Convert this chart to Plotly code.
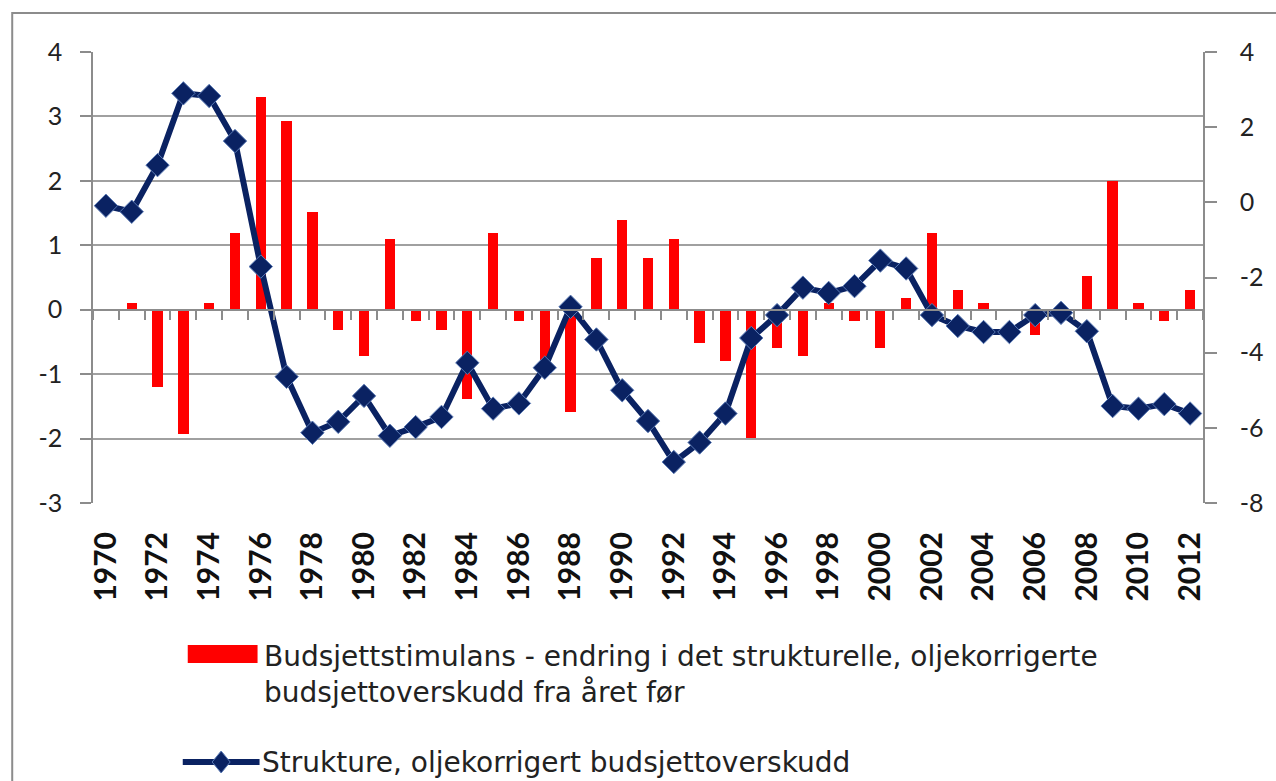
import plotly.graph_objects as go

years = list(range(1970, 2013))
stimulus = [0, 0.1, -1.2, -1.93, 0.1, 1.19, 3.3, 2.93, 1.52, -0.31,
            -0.72, 1.1, -0.18, -0.31, -1.39, 1.19, -0.18, -0.78, -1.59, 0.81,
            1.39, 0.81, 1.1, -0.52, -0.8, -1.99, -0.59, -0.72, 0.1, -0.18,
            -0.59, 0.18, 1.19, 0.3, 0.1, 0, -0.39, 0, 0.52, 2.0,
            0.1, -0.18, 0.3]
structural = [-0.09, -0.25, 0.99, 2.9, 2.83, 1.63, -1.71, -4.64, -6.13, -5.84,
              -5.15, -6.21, -5.98, -5.71, -4.27, -5.49, -5.35, -4.40, -2.78, -3.65,
              -5.0, -5.82, -6.91, -6.39, -5.62, -3.61, -3.0, -2.27, -2.41, -2.23,
              -1.55, -1.76, -3.0, -3.29, -3.45, -3.45, -3.0, -2.94, -3.43, -5.42,
              -5.49, -5.37, -5.62]
label_years = [y for y in years if y % 2 == 0]
label_text = [str(y) for y in label_years]
left_ticks = [-3, -2, -1, 0, 1, 2, 3, 4]
left_text = ["-3", "-2", "-1", "0", "1", "2", "3", "4"]
right_ticks = [-8, -6, -4, -2, 0, 2, 4]
right_text = ["-8", "-6", "-4", "-2", "0", "2", "4"]

name_bar = "Budsjettstimulans - endring i det strukturelle, oljekorrigerte<br>budsjettoverskudd fra året før"
name_line = "Strukture, oljekorrigert budsjettoverskudd"

W, H = 1276, 781
L, R, T, B = 93, 1206, 52, 503
pw, ph = R - L, B - T

def px(x):
    return (x - L) / pw

def py(y):
    return (B - y) / ph

GRID = "#a0a0a0"
AX = "#8c8c8c"
RED = "#ff0000"
NAVY = "#0a2262"
FONT = "Lato"
LFONT = "DejaVu Sans"

fig = go.Figure()
fig.add_trace(go.Bar(x=years, y=stimulus, width=0.4, marker=dict(color=RED, line=dict(width=0)),
                     xaxis="x", yaxis="y", name=name_bar, showlegend=False))
fig.add_trace(go.Scatter(x=years, y=structural, mode="lines+markers", xaxis="x2", yaxis="y2",
                         line=dict(color=NAVY, width=6),
                         marker=dict(symbol="diamond", size=18, color=NAVY,
                                     line=dict(color="#5a7ab5", width=1)),
                         name=name_line, showlegend=False))

lmin, lmax = -3, 4
rmin, rmax = -8, 4
xr = [years[0] - 0.5, years[-1] + 0.5]
boundaries = [years[0] - 0.5 + i for i in range(len(years) + 1)]

fig.update_layout(
    width=W, height=H,
    margin=dict(l=L, r=W - R, t=T, b=H - B, pad=0),
    paper_bgcolor="white", plot_bgcolor="white",
    font=dict(family=FONT, color="#222222"),
    bargap=0,
    xaxis=dict(range=xr, anchor="free", position=(0 - lmin) / (lmax - lmin),
               showgrid=False, zeroline=False, showline=True, linecolor=AX, linewidth=1.5,
               ticks="outside", ticklen=10, tickwidth=1.5, tickcolor=AX,
               tickvals=boundaries, showticklabels=False),
    xaxis2=dict(range=xr, overlaying="x", anchor="y", side="bottom",
                showgrid=False, zeroline=False, showline=False, ticks="",
                tickvals=label_years, ticktext=label_text, tickangle=-90,
                ticklabelstandoff=22,
                tickfont=dict(family=FONT, size=30, color="#111111", weight="bold")),
    yaxis=dict(range=[lmin, lmax], tickvals=left_ticks, ticktext=left_text, anchor="x",
               showgrid=True, gridcolor=GRID, gridwidth=1.8, zeroline=False,
               showline=True, linecolor=AX, linewidth=1.5,
               ticks="outside", ticklen=11, tickwidth=1.5, tickcolor=AX,
               ticklabelstandoff=13,
               tickfont=dict(family=FONT, size=25, color="#222222")),
    yaxis2=dict(range=[rmin, rmax], tickvals=right_ticks, ticktext=right_text,
                overlaying="y", side="right", anchor="x2",
                showgrid=False, zeroline=False, showline=True, linecolor=AX, linewidth=1.5,
                ticks="outside", ticklen=12, tickwidth=1.5, tickcolor=AX,
                ticklabelstandoff=18,
                tickfont=dict(family=FONT, size=25, color="#222222")),
)

shapes = [
    dict(type="rect", xref="paper", yref="paper", x0=px(12), x1=px(1290), y0=py(900), y1=py(13),
         line=dict(color=AX, width=2), fillcolor="rgba(0,0,0,0)", layer="below"),
    dict(type="rect", xref="paper", yref="paper", x0=px(188), x1=px(258), y0=py(663), y1=py(645),
         line=dict(width=0), fillcolor=RED),
    dict(type="line", xref="paper", yref="paper", x0=px(183), x1=px(260), y0=py(762), y1=py(762),
         line=dict(color=NAVY, width=6)),
    dict(type="path", xref="paper", yref="paper", xsizemode="pixel", ysizemode="pixel",
         xanchor=px(221.5), yanchor=py(762), path="M -9 0 L 0 11 L 9 0 L 0 -11 Z",
         fillcolor=NAVY, line=dict(color="#5a7ab5", width=1)),
]
fig.update_layout(shapes=shapes)

fig.add_annotation(text=name_bar, xref="paper", yref="paper", x=px(262), y=py(674),
                   xanchor="left", yanchor="middle", align="left", showarrow=False,
                   font=dict(family=LFONT, size=28, color="#222222"))
fig.add_annotation(text=name_line, xref="paper", yref="paper", x=px(260), y=py(762),
                   xanchor="left", yanchor="middle", align="left", showarrow=False,
                   font=dict(family=LFONT, size=28, color="#222222"))

fig.write_html("out.html", config={"displayModeBar": False},
               post_script="document.body.style.margin='0';document.body.style.overflow='hidden';")
